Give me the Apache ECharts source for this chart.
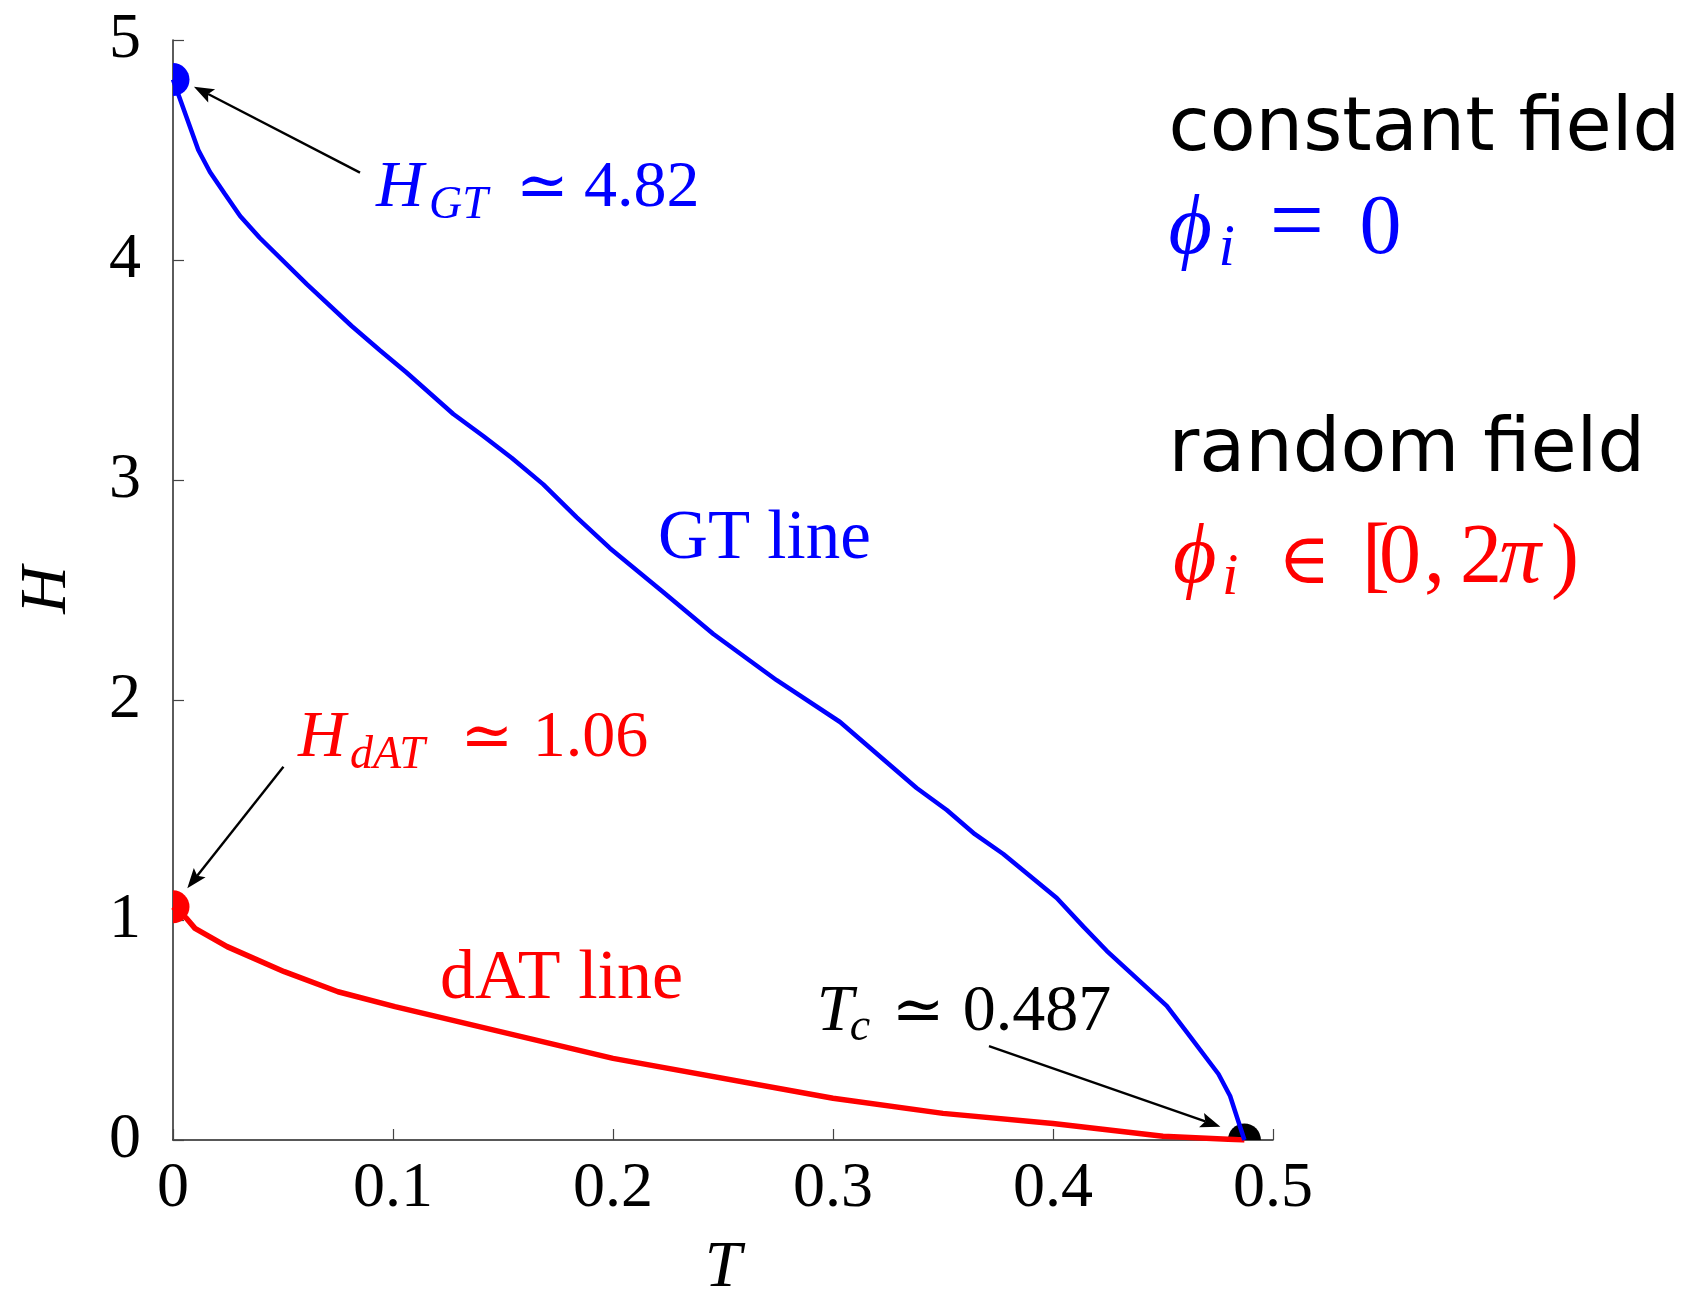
<!DOCTYPE html>
<html>
<head>
<meta charset="utf-8">
<title>GT and dAT lines</title>
<script src="https://cdn.jsdelivr.net/npm/echarts@6/dist/echarts.min.js"></script>
<style>
  html, body { margin: 0; padding: 0; background: #ffffff; }
  #chart { width: 1691px; height: 1292px; }
</style>
</head>
<body>
<div id="chart"></div>
<script>
// Critical values
const H_GT = 4.82;   // GT line at T = 0
const H_DAT = 1.06;  // dAT line at T = 0
const T_C = 0.487;   // critical temperature

// GT line (constant field)
const gtT = [0, 0.0115, 0.0168, 0.0236, 0.0305, 0.0395, 0.0608, 0.0812, 0.094, 0.106,
             0.1274, 0.141, 0.154, 0.1683, 0.1835, 0.1986, 0.2229, 0.2456, 0.2744, 0.3032,
             0.338, 0.3517, 0.3645, 0.3774, 0.4017, 0.4138, 0.4244, 0.4517, 0.4608, 0.4752,
             0.4805, T_C];
const gtH = [H_GT, 4.50, 4.40, 4.30, 4.20, 4.10, 3.89, 3.70, 3.59, 3.49,
             3.30, 3.20, 3.10, 2.98, 2.83, 2.69, 2.49, 2.30, 2.09, 1.90,
             1.60, 1.50, 1.39, 1.30, 1.10, 0.97, 0.86, 0.61, 0.49, 0.30,
             0.20, 0];

// dAT line (random field)
const datT = [0, 0.0059, 0.01, 0.0246, 0.0506, 0.075, 0.1009, 0.2, 0.3, 0.35, 0.40, 0.45, T_C];
const datH = [H_DAT, 1.01, 0.962, 0.879, 0.765, 0.674, 0.606, 0.371, 0.19, 0.121, 0.075, 0.017, 0];

// Axis ticks
const xTickLabels = ['0', '0.1', '0.2', '0.3', '0.4', '0.5'];
const yTickLabels = ['0', '1', '2', '3', '4', '5'];

// Marked end points of the two lines
const dotT = [0, 0, T_C];
const dotH = [H_GT, H_DAT, 0];

// Arrows: [T start, H start, T tip, H tip]
const arrowStartT = [0.085, 0.0502, 0.3709];
const arrowStartH = [4.397, 1.697, 0.427];
const arrowTipT = [0.0095, 0.0065, 0.4761];
const arrowTipH = [4.788, 1.144, 0.0605];

const BLUE = '#0000ff', RED = '#ff0000', BLACK = '#000000';
const dotColors = [BLUE, RED, BLACK];
const SERIF = '"Liberation Serif", "DejaVu Serif", serif';
const SANS = '"DejaVu Sans", sans-serif';

// Text annotations, anchored at the left end of their baseline (data units)
const annotations = [
  { at: [0.0923, 4.2227], color: BLUE, font: SERIF, size: 66, parts: [
    { text: 'H', italic: true, dx: 0 },
    { text: 'GT', italic: true, dx: 53, dy: 10, scale: 0.7 },
    { text: '\u2243', dx: 140, scale: 0.95 },
    { text: H_GT.toFixed(2), dx: 208 }
  ]},
  { at: [0.0568, 1.7205], color: RED, font: SERIF, size: 66, parts: [
    { text: 'H', italic: true, dx: 0 },
    { text: 'dAT', italic: true, dx: 52, dy: 10, scale: 0.7 },
    { text: '\u2243', dx: 162.5, scale: 0.95 },
    { text: H_DAT.toFixed(2), dx: 234.7 }
  ]},
  { at: [0.2926, 0.4773], color: BLACK, font: SERIF, size: 66, parts: [
    { text: 'T', italic: true, dx: 0 },
    { text: 'c', italic: true, dx: 33, dy: 8, scale: 0.7 },
    { text: '\u2243', dx: 75, scale: 0.95 },
    { text: T_C.toFixed(3), dx: 146 }
  ]},
  { at: [0.2205, 2.6214], color: BLUE, font: SERIF, size: 69, parts: [
    { text: 'GT line', dx: 0 }
  ]},
  { at: [0.1214, 0.6214], color: RED, font: SERIF, size: 70, parts: [
    { text: 'dAT line', dx: 0 }
  ]},
  { at: [0.4525, 4.4682], color: BLACK, font: SANS, size: 75, parts: [
    { text: 'constant field', dx: 0 }
  ]},
  { at: [0.4525, 4.0045], color: BLUE, font: SERIF, size: 84, parts: [
    { text: '\u03d5', italic: true, dx: 0 },
    { text: 'i', italic: true, dx: 50, dy: 10, scale: 0.7 },
    { text: '=', dx: 101, scale: 1.15 },
    { text: '0', dx: 191 }
  ]},
  { at: [0.4525, 3.0091], color: BLACK, font: SANS, size: 75, parts: [
    { text: 'random field', dx: 0 }
  ]},
  { at: [0.4545, 2.5064], color: RED, font: SERIF, size: 84, parts: [
    { text: '\u03d5', italic: true, dx: 0 },
    { text: 'i', italic: true, dx: 49, dy: 10, scale: 0.7 },
    { text: '\u2208', dx: 105, scale: 0.85 },
    { text: '[', dx: 189 },
    { text: '0', dx: 206 },
    { text: ',', dx: 251 },
    { text: '2', dx: 287 },
    { text: '\u03c0', italic: true, dx: 326 },
    { text: ')', dx: 378 }
  ]}
];

// Offset from the alphabetic baseline to the canvas "middle" baseline
const measureCtx = document.createElement('canvas').getContext('2d');
function middleShift(family, size, italic) {
  measureCtx.font = (italic ? 'italic ' : '') + size + 'px ' + family;
  measureCtx.textBaseline = 'alphabetic';
  const m = measureCtx.measureText('Hg');
  if (typeof m.fontBoundingBoxAscent === 'number') {
    return (m.fontBoundingBoxAscent - m.fontBoundingBoxDescent) / 2;
  }
  return 0.34 * size;
}

const gtData = gtT.map((t, i) => [t, gtH[i]]);
const datData = datT.map((t, i) => [t, datH[i]]);
const dotData = dotT.map((t, i) => [t, dotH[i]]);
const arrowData = arrowStartT.map((t, i) => [t, arrowStartH[i], arrowTipT[i], arrowTipH[i]]);

const axisNameStyle = { fontFamily: SERIF, fontStyle: 'italic', fontSize: 66, color: '#000' };
const axisLabelStyle = { fontFamily: SERIF, fontSize: 64, color: '#000' };

const chart = echarts.init(document.getElementById('chart'), null, { renderer: 'canvas' });

chart.setOption({
  animation: false,
  backgroundColor: '#ffffff',
  grid: { left: 173, right: 418, top: 40, bottom: 152, containLabel: false, outerBoundsMode: 'none' },
  xAxis: {
    type: 'value', min: 0, max: 0.5, interval: 0.1,
    name: 'T', nameLocation: 'middle', nameGap: 96, nameTextStyle: axisNameStyle,
    axisLine: { show: true, onZero: false, lineStyle: { color: '#222', width: 1.6 } },
    axisTick: { show: true, inside: true, length: 11, lineStyle: { color: '#444', width: 1.2 } },
    axisLabel: Object.assign({ margin: 17, showMinLabel: true, showMaxLabel: true,
      formatter: v => xTickLabels[Math.round(v / 0.1)] }, axisLabelStyle),
    splitLine: { show: false }
  },
  yAxis: {
    type: 'value', min: 0, max: 5, interval: 1,
    name: 'H', nameLocation: 'middle', nameRotate: 90, nameGap: 92, nameTextStyle: axisNameStyle,
    axisLine: { show: true, onZero: false, lineStyle: { color: '#333', width: 1.6 } },
    axisTick: { show: true, inside: true, length: 11, lineStyle: { color: '#444', width: 1.2 } },
    axisLabel: Object.assign({ margin: 32, showMinLabel: true, showMaxLabel: true,
      formatter: v => yTickLabels[Math.round(v)] }, axisLabelStyle),
    splitLine: { show: false }
  },
  series: [
    {
      // end-point dots, cut by the plot frame
      type: 'custom', name: 'points', clip: true, silent: true, z: 1,
      data: dotData,
      renderItem: (params, api) => {
        const p = api.coord([api.value(0), api.value(1)]);
        return { type: 'circle', shape: { cx: p[0], cy: p[1], r: 16.5 },
                 style: { fill: dotColors[params.dataIndex] } };
      }
    },
    {
      type: 'line', name: 'GT line', data: gtData, showSymbol: false, z: 3,
      lineStyle: { color: BLUE, width: 4.5 }, itemStyle: { color: BLUE }, clip: true
    },
    {
      type: 'line', name: 'dAT line', data: datData, showSymbol: false, z: 2,
      lineStyle: { color: RED, width: 5.5 }, itemStyle: { color: RED }, clip: true
    },
    {
      type: 'custom', name: 'arrows', clip: false, silent: true, z: 4,
      data: arrowData,
      renderItem: (params, api) => {
        const p0 = api.coord([api.value(0), api.value(1)]);
        const p1 = api.coord([api.value(2), api.value(3)]);
        const dx = p1[0] - p0[0], dy = p1[1] - p0[1];
        const len = Math.hypot(dx, dy), ux = dx / len, uy = dy / len;
        const nx = -uy, ny = ux;
        const hl = 20, hw = 7.5, notch = 4;
        const bx = p1[0] - ux * hl, by = p1[1] - uy * hl;
        const mx = p1[0] - ux * (hl - notch), my = p1[1] - uy * (hl - notch);
        return {
          type: 'group',
          children: [
            { type: 'line', shape: { x1: p0[0], y1: p0[1], x2: mx, y2: my },
              style: { stroke: '#000', lineWidth: 2.4 } },
            { type: 'polygon',
              shape: { points: [[p1[0], p1[1]], [bx + nx * hw, by + ny * hw], [mx, my], [bx - nx * hw, by - ny * hw]] },
              style: { fill: '#000' } }
          ]
        };
      }
    },
    {
      type: 'custom', name: 'labels', clip: false, silent: true, z: 5,
      data: annotations.map(a => a.at),
      renderItem: (params, api) => {
        const a = annotations[params.dataIndex];
        const p = api.coord([api.value(0), api.value(1)]);
        return {
          type: 'group',
          children: a.parts.map(part => {
            const size = Math.round(a.size * (part.scale || 1));
            const shift = middleShift(a.font, size, part.italic);
            return {
              type: 'text',
              x: p[0] + part.dx,
              y: p[1] + (part.dy || 0) - shift,
              style: {
                text: part.text, fill: a.color,
                fontFamily: a.font, fontSize: size,
                fontStyle: part.italic ? 'italic' : 'normal',
                align: 'left', verticalAlign: 'middle'
              }
            };
          })
        };
      }
    }
  ]
});
</script>
</body>
</html>
